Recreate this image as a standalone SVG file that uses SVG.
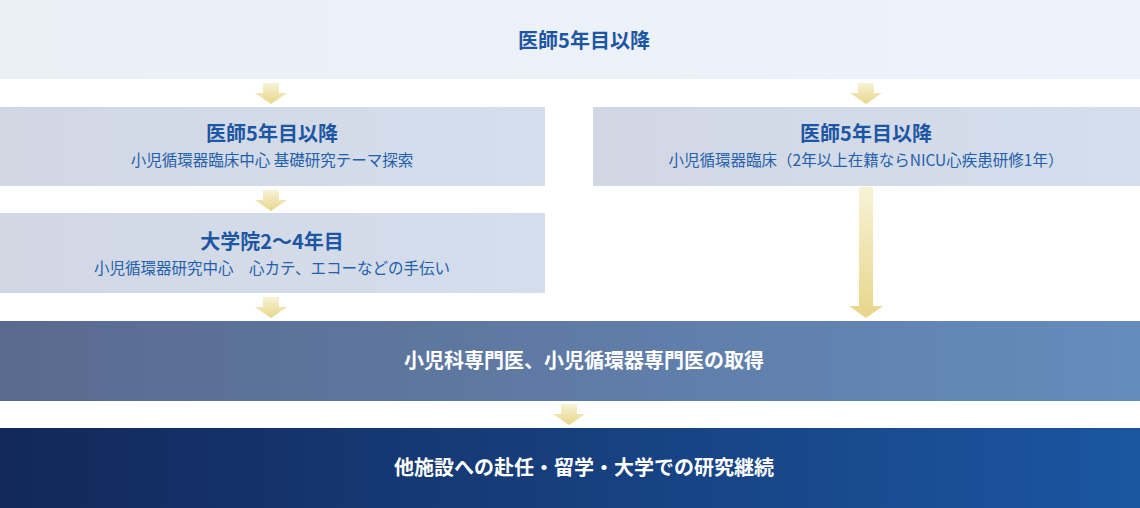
<svg xmlns="http://www.w3.org/2000/svg" xmlns:xlink="http://www.w3.org/1999/xlink" width="1140" height="508" viewBox="0 0 1140 508">
<style>
text{font-family:"Noto Sans CJK JP","Noto Sans",sans-serif;text-anchor:middle}
.t{font-size:20px;font-weight:bold;fill:#1d56a2}
.s{font-size:15.5px;fill:#2460aa}
.w{font-size:20px;font-weight:bold;fill:#ffffff}
</style>
<defs>
<linearGradient id="gTop" x1="0" y1="0" x2="1" y2="0"><stop offset="0" stop-color="#ebeff6"/><stop offset="1" stop-color="#eef3fb"/></linearGradient>
<linearGradient id="gBox" x1="0" y1="0" x2="1" y2="0"><stop offset="0" stop-color="#d2d7e4"/><stop offset="1" stop-color="#d4deed"/></linearGradient>
<linearGradient id="gMid" x1="0" y1="0" x2="1" y2="0"><stop offset="0" stop-color="#5a6a8e"/><stop offset="1" stop-color="#648cbd"/></linearGradient>
<linearGradient id="gDark" x1="0" y1="0" x2="1" y2="0"><stop offset="0" stop-color="#12285a"/><stop offset="1" stop-color="#1b56a1"/></linearGradient>
<linearGradient id="gArr" x1="0" y1="0" x2="0" y2="1"><stop offset="0" stop-color="#f7f3d6"/><stop offset="1" stop-color="#e7d68a"/></linearGradient>
<path id="arr" d="M-8,0 H8 V10 H16 L0,21 L-16,10 H-8 Z" fill="url(#gArr)"/>
</defs>
<rect width="1140" height="508" fill="#ffffff"/>
<g id="connectors">
<use xlink:href="#arr" transform="translate(271,83)"/>
<use xlink:href="#arr" transform="translate(866,83)"/>
<use xlink:href="#arr" transform="translate(271,190)"/>
<use xlink:href="#arr" transform="translate(271,297)"/>
<use xlink:href="#arr" transform="translate(569,404)"/>
<path d="M859,187 H873 V306 H883 L866,318 L849,306 H859 Z" fill="url(#gArr)"/>
</g>
<g id="n-top">
<rect x="0" y="0" width="1140" height="79" fill="url(#gTop)"/>
<text class="t" x="584" y="48">医師5年目以降</text>
</g>
<g id="n-left1">
<rect x="0" y="107" width="545" height="79" fill="url(#gBox)"/>
<text class="t" x="272" y="141">医師5年目以降</text>
<text class="s" x="272" y="166">小児循環器臨床中心 基礎研究テーマ探索</text>
</g>
<g id="n-left2">
<rect x="0" y="213" width="545" height="80" fill="url(#gBox)"/>
<text class="t" x="272" y="249">大学院2〜4年目</text>
<text class="s" x="272" y="274">小児循環器研究中心　心カテ、エコーなどの手伝い</text>
</g>
<g id="n-right">
<rect x="593" y="107" width="547" height="79" fill="url(#gBox)"/>
<text class="t" x="866" y="141">医師5年目以降</text>
<text class="s" x="866" y="166">小児循環器臨床（2年以上在籍ならNICU心疾患研修1年）</text>
</g>
<g id="n-mid">
<rect x="0" y="321" width="1140" height="80" fill="url(#gMid)"/>
<text class="w" x="584" y="368">小児科専門医、小児循環器専門医の取得</text>
</g>
<g id="n-bottom">
<rect x="0" y="428" width="1140" height="80" fill="url(#gDark)"/>
<text class="w" x="584" y="475">他施設への赴任・留学・大学での研究継続</text>
</g>
</svg>
